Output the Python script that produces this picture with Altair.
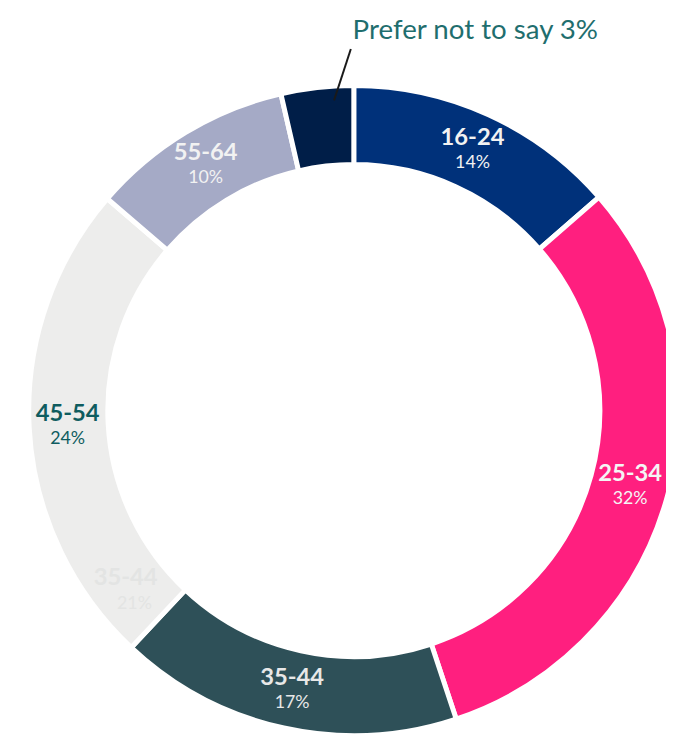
import altair as alt
import pandas as pd

groups = ["16-24", "25-34", "35-44", "45-54", "55-64", "Prefer not to say"]
values = [13.6, 31.3, 17.1, 24.3, 10.1, 3.6]
pct_labels = ["14%", "32%", "17%", "24%", "10%", ""]
name_labels = ["16-24", "25-34", "35-44", "45-54", "55-64", ""]
seg_colors = ["#00317A", "#FF1F7F", "#2E5058", "#EDEDEC", "#A5AAC6", "#001E48"]
text_colors = ["#F2F2F2", "#F5F5F5", "#E8E8E8", "#0F5C5F", "#F2F2F2", "#FFFFFF"]

df = pd.DataFrame({
    "group": groups,
    "value": values,
    "order": list(range(len(groups))),
    "name": name_labels,
    "pct": pct_labels,
    "tcolor": text_colors,
})

CX, CY = 350, 403

base = alt.Chart(df).encode(
    theta=alt.Theta("value:Q", stack=True),
    order=alt.Order("order:Q"),
    x=alt.value(CX),
    y=alt.value(CY),
)

arcs = base.mark_arc(innerRadius=249, outerRadius=329, stroke="white", strokeWidth=5).encode(
    color=alt.Color("group:N", scale=alt.Scale(domain=groups, range=seg_colors), legend=None)
)

names = base.mark_text(radius=290, dy=-12, font="Lato", fontSize=24, fontWeight="bold").encode(
    text="name:N",
    color=alt.Color("tcolor:N", scale=None),
)

pcts = base.mark_text(radius=290, dy=13, font="Lato", fontSize=18).encode(
    text="pct:N",
    color=alt.Color("tcolor:N", scale=None),
)

callout_text = ["Prefer not to say 3%"]
callout = alt.Chart(pd.DataFrame({"t": callout_text})).mark_text(
    font="Lato", fontSize=28, color="#1F6E6E", baseline="middle", align="center"
).encode(text="t:N", x=alt.value(473), y=alt.value(19))

leader = alt.Chart(pd.DataFrame({"a": [0]})).mark_rule(color="#1A1A1A", strokeWidth=2).encode(
    x=alt.value(347), y=alt.value(37), x2=alt.value(330), y2=alt.value(89)
)

ghost_name = ["35-44"]
ghost_pct = ["21%"]
ghost1 = alt.Chart(pd.DataFrame({"t": ghost_name})).mark_text(
    font="Lato", fontSize=24, fontWeight="bold", color="#E3E4E3"
).encode(text="t:N", x=alt.value(119), y=alt.value(573))
ghost2 = alt.Chart(pd.DataFrame({"t": ghost_pct})).mark_text(
    font="Lato", fontSize=18, color="#E3E4E3"
).encode(text="t:N", x=alt.value(128), y=alt.value(599))

chart = alt.layer(arcs, ghost1, ghost2, names, pcts, leader, callout).properties(
    width=666, height=732, autosize=alt.AutoSizeParams(type="none"), padding=0
).configure_view(stroke=None)

chart.save("out.html", embed_options={"renderer": "svg", "actions": False})
